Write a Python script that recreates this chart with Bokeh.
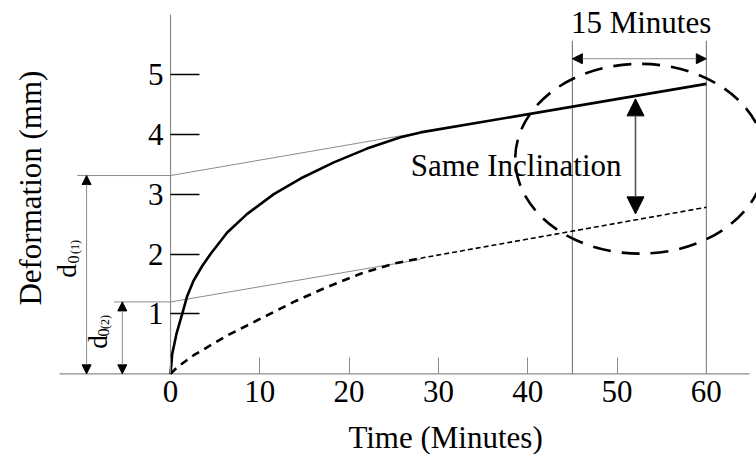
import numpy as np
from bokeh.plotting import figure
from bokeh.models import Range1d, FixedTicker, Arrow, NormalHead
from bokeh.core.properties import value
from bokeh.embed import file_html
from bokeh.resources import INLINE

# ---- data ----
time_solid = [0, 0.19, 0.67, 1.31, 1.87, 2.6, 3.55, 4.48, 6.35, 8.59, 11.57, 14.56, 18.29, 22.0, 25.76, 28.0, 60.0]
def_solid = [0, 0.33, 0.67, 1.0, 1.3, 1.56, 1.8, 2.0, 2.36, 2.67, 3.0, 3.26, 3.53, 3.76, 3.95, 4.03, 4.84]
time_dash = [0, 0.75, 2.6, 6.35, 10.08, 13.8, 17.55, 21.28, 25.0, 28.0]
def_dash = [0, 0.11, 0.31, 0.64, 0.92, 1.2, 1.45, 1.67, 1.84, 1.93]
time_dash_lin = [28.0, 60.0]
def_dash_lin = [1.93, 2.78]
d0_values = [3.31, 1.2]          # d0(1), d0(2) intercepts
tangent_end_time = 28.0
tangent_end_values = [4.03, 1.91]
x_ticks = [0, 10, 20, 30, 40, 50, 60]
y_ticks = [1, 2, 3, 4, 5]
window_times = [45, 60]

FONT = "Liberation Serif"

p = figure(width=756, height=454, output_backend="svg", toolbar_location=None,
           x_range=Range1d(-19.04, 65.62), y_range=Range1d(-1.347, 6.232),
           min_border=0, min_border_left=0, min_border_right=0,
           min_border_top=0, min_border_bottom=0)
p.outline_line_color = None
p.grid.visible = False
p.background_fill_color = "white"

# axes fixed at zero
xa = p.xaxis[0]
ya = p.yaxis[0]
xa.fixed_location = 0
ya.fixed_location = 0
xa.ticker = FixedTicker(ticks=x_ticks)
ya.ticker = FixedTicker(ticks=y_ticks)
for ax in (xa, ya):
    ax.axis_line_color = None
    ax.minor_tick_line_color = None
    ax.major_tick_out = 0
    ax.major_label_text_font = FONT
    ax.major_label_text_font_size = "31px"
    ax.major_label_text_color = "black"
xa.major_tick_in = 16
xa.major_tick_line_color = "#8c8c8c"
xa.major_tick_line_width = 1
xa.major_label_standoff = 7
ya.major_tick_in = 29
ya.major_tick_line_color = "black"
ya.major_tick_line_width = 1.6
ya.major_label_standoff = 7

# axis lines
p.segment(x0=[-12.43, 0], y0=[0, 0], x1=[64.84, 0], y1=[0, 6.0],
          line_color="#8c8c8c", line_width=1.2)

# window verticals
p.segment(x0=window_times, y0=[0, 0], x1=window_times, y1=[5.56, 5.56],
          line_color="#6a6a6a", line_width=1)

# tangent / intercept thin lines
p.line([-10.45, 0, tangent_end_time], [d0_values[0], d0_values[0], tangent_end_values[0]],
       line_color="#8c8c8c", line_width=1)
p.line([-6.35, 0, tangent_end_time], [d0_values[1], d0_values[1], tangent_end_values[1]],
       line_color="#8c8c8c", line_width=1)

# curves
p.line(time_solid, def_solid, line_color="black", line_width=2.6, line_join="round")
p.line(time_dash, def_dash, line_color="black", line_width=2.6, line_dash="8 6")
p.line(time_dash_lin, def_dash_lin, line_color="black", line_width=1.6, line_dash="5 3")

# ellipse
p.ellipse(x=[52.6], y=[3.59], width=[28.0], height=[3.17], fill_color=None,
          line_color="black", line_width=2.6, line_dash="18 11")

# arrows
def head(s):
    return NormalHead(size=s, fill_color="black", line_color="black", line_width=1)

p.add_layout(Arrow(x_start=-9.4, y_start=0, x_end=-9.4, y_end=d0_values[0],
                   start=head(9), end=head(9), line_color="#8c8c8c", line_width=1))
p.add_layout(Arrow(x_start=-5.4, y_start=0, x_end=-5.4, y_end=d0_values[1],
                   start=head(9), end=head(9), line_color="#8c8c8c", line_width=1))
p.add_layout(Arrow(x_start=45, y_start=5.26, x_end=60, y_end=5.26,
                   start=head(10), end=head(10), line_color="#8c8c8c", line_width=1))
p.add_layout(Arrow(x_start=52.07, y_start=2.67, x_end=52.07, y_end=4.59,
                   start=head(17), end=head(17), line_color="#555555", line_width=1.6))

# texts
p.text(x=[52.7], y=[5.865], text=["15 Minutes"], text_font=value(FONT), text_font_size="31px",
       text_align="center", text_baseline="middle", text_color="black")
p.text(x=[38.7], y=[3.478], text=["Same Inclination"], text_font=value(FONT), text_font_size="31px",
       text_align="center", text_baseline="middle", text_color="black")
p.text(x=[30.8], y=[-1.064], text=["Time (Minutes)"], text_font=value(FONT), text_font_size="31px",
       text_align="center", text_baseline="middle", text_color="black")
p.text(x=[-15.68], y=[3.10], text=["Deformation (mm)"], text_font=value(FONT), text_font_size="31px",
       text_align="center", text_baseline="middle", angle=np.pi / 2, text_color="black")

# d0 labels (rotated)
rot = np.pi / 2
p.text(x=[-11.59, -8.12], y=[1.605, 0.42], text=["d", "d"], text_font=value(FONT),
       text_font_size="27px", text_align="left", text_baseline="middle", angle=rot, text_color="black")
p.text(x=[-10.92, -7.45], y=[1.84, 0.623], text=["0", "0"], text_font=value(FONT),
       text_font_size="16px", text_align="left", text_baseline="middle", angle=rot, text_color="black")
p.text(x=[-10.75, -7.3], y=[2.0, 0.75], text=["(1)", "(2)"], text_font=value(FONT),
       text_font_size="12px", text_align="left", text_baseline="middle", angle=rot, text_color="black")

open("out.html", "w").write(file_html(p, INLINE))
